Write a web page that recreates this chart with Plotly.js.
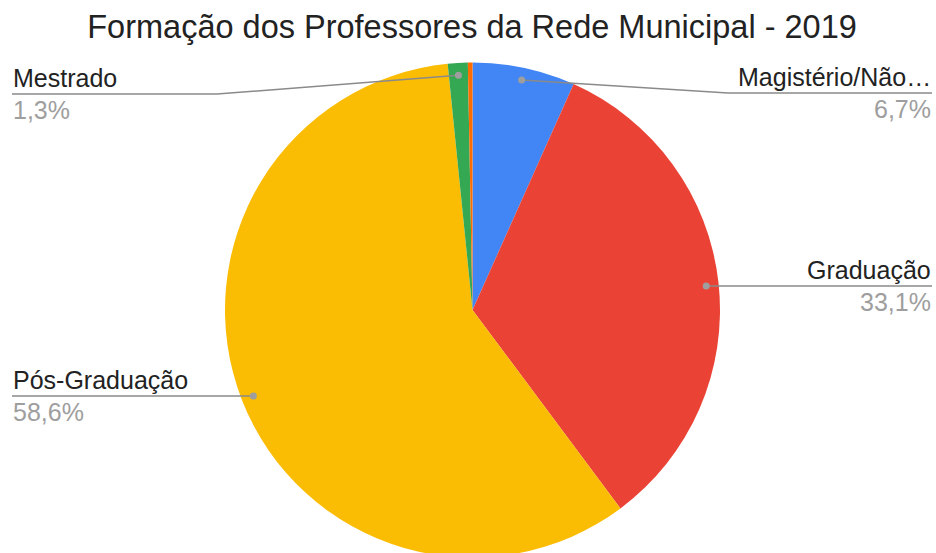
<!DOCTYPE html>
<html>
<head>
<meta charset="utf-8">
<script src="https://cdn.plot.ly/plotly-3.0.1.min.js"></script>
<style>
html,body{margin:0;padding:0;overflow:hidden;background:#fff;}
#chart{width:936px;height:558px;}
</style>
</head>
<body>
<div id="chart"></div>
<script>
// Data
const categories = ["Magistério/Não…", "Graduação", "Pós-Graduação", "Mestrado", "Doutorado"];
const values = [6.7, 33.1, 58.6, 1.3, 0.3];
const valueLabels = ["6,7%", "33,1%", "58,6%", "1,3%", ""];
const colors = ["#4285f4", "#ea4335", "#fbbc04", "#34a853", "#ff6d01"];
const showLabel = [true, true, true, true, false];

const W = 936, H = 558;
const cx = 472.5, cy = 310, R = 247.5;
const domX = [(cx - R) / W, (cx + R) / W];
const domY = [(H - (cy + R)) / H, (H - (cy - R)) / H];

// label layout (pixel positions of label rows)
const labelLayout = [
  {side: "right", lineY: 93, elbowX: 728},
  {side: "right", lineY: 286, elbowX: null},
  {side: "left", lineY: 396, elbowX: null},
  {side: "left", lineY: 94, elbowX: 217},
  null
];

const px = x => x / W;
const py = y => (H - y) / H;

const total = values.reduce((a, b) => a + b, 0);
let cum = 0;
const shapes = [];
const annotations = [];
values.forEach((v, i) => {
  const mid = (cum + v / 2) / total;
  cum += v;
  if (!showLabel[i]) return;
  const ang = mid * 2 * Math.PI;
  const dx = cx + 0.95 * R * Math.sin(ang);
  const dy = cy - 0.95 * R * Math.cos(ang);
  const L = labelLayout[i];
  const endX = L.side === "right" ? 932 : 12;
  const pts = [[dx, dy]];
  if (L.elbowX !== null) pts.push([L.elbowX, L.lineY]);
  else pts[0] = [dx, L.lineY];
  pts.push([endX, L.lineY]);
  for (let k = 0; k < pts.length - 1; k++) {
    shapes.push({type: "line", xref: "paper", yref: "paper",
      x0: px(pts[k][0]), y0: py(pts[k][1]), x1: px(pts[k + 1][0]), y1: py(pts[k + 1][1]),
      line: {color: "#8a8a8a", width: 1.5}});
  }
  const d0 = pts[0];
  shapes.push({type: "circle", xref: "paper", yref: "paper",
    x0: px(d0[0] - 3.5), x1: px(d0[0] + 3.5), y0: py(d0[1] + 3.5), y1: py(d0[1] - 3.5),
    fillcolor: "#9e9e9e", line: {width: 0}});
  const anchor = L.side === "right" ? "right" : "left";
  annotations.push({xref: "paper", yref: "paper", x: px(endX), y: py(L.lineY - 1),
    xanchor: anchor, yanchor: "bottom", showarrow: false, text: categories[i],
    font: {family: "'Liberation Sans', Arial, sans-serif", size: 25, color: "#222222"}, borderpad: 0});
  annotations.push({xref: "paper", yref: "paper", x: px(endX), y: py(L.lineY + 1),
    xanchor: anchor, yanchor: "top", showarrow: false, text: valueLabels[i],
    font: {family: "'Liberation Sans', Arial, sans-serif", size: 25, color: "#9e9e9e"}, borderpad: 0});
});

const trace = {
  type: "pie",
  labels: categories,
  values: values,
  sort: false,
  direction: "clockwise",
  rotation: 0,
  marker: {colors: colors, line: {width: 0}},
  textinfo: "none",
  hoverinfo: "label+percent",
  domain: {x: domX, y: domY},
  showlegend: false
};

const layout = {
  width: W, height: H,
  margin: {l: 0, r: 0, t: 0, b: 0},
  paper_bgcolor: "#ffffff",
  title: {text: "Formação dos Professores da Rede Municipal - 2019",
    font: {family: "'Liberation Sans', Arial, sans-serif", size: 32.5, color: "#222222"},
    x: 0.5043, xanchor: "center", y: 1 - 27 / H, yanchor: "middle", yref: "container"},
  shapes: shapes,
  annotations: annotations,
  showlegend: false
};

Plotly.newPlot("chart", [trace], layout, {displayModeBar: false, staticPlot: true});
</script>
</body>
</html>
